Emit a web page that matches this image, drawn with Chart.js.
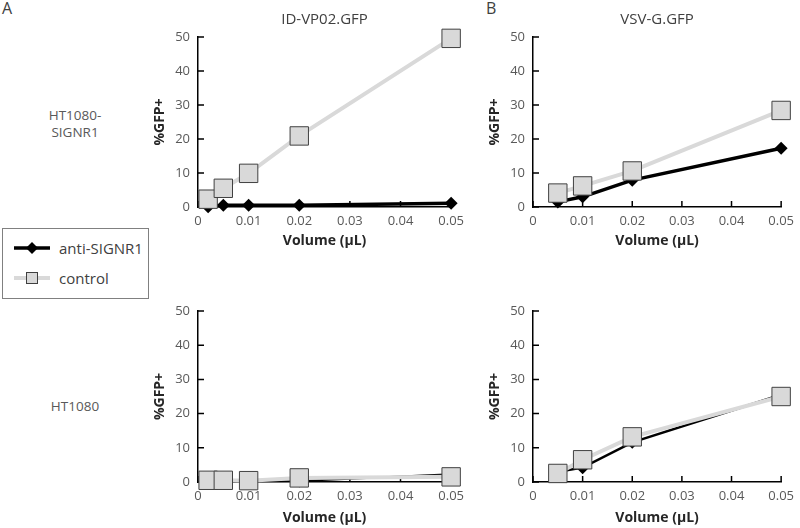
<!DOCTYPE html>
<html>
<head>
<meta charset="utf-8">
<script src="https://cdn.jsdelivr.net/npm/chart.js@4.4.0/dist/chart.umd.min.js"></script>
<style>
  body { margin: 0; background: #fff; font-family: "Open Sans", sans-serif; }
  #wrap { position: relative; width: 800px; height: 528px; overflow: hidden; }
  .box { position: absolute; }
  .lbl { position: absolute; color: #595959; font-size: 13.5px; text-align: center; line-height: 17px; }
  .panel { position: absolute; color: #404040; font-size: 16px; }
  #legend { position: absolute; left: 2px; top: 228px; width: 145px; height: 69px; border: 1px solid #808080; }
  #legend .row { position: absolute; left: 10px; height: 20px; display: flex; align-items: center; font-size: 15px; color: #404040; }
  #legend svg { margin-right: 8px; }
</style>
</head>
<body>
<div id="wrap">
  <div class="panel" style="left:2px;top:-3px;">A</div>
  <div class="panel" style="left:486px;top:-3px;">B</div>
  <div class="lbl" style="left:25px;top:107px;width:100px;">HT1080-<br>SIGNR1</div>
  <div class="lbl" style="left:25px;top:398px;width:100px;">HT1080</div>
  <div id="legend">
    <div class="row" style="top:9px;">
      <svg width="38" height="14"><line x1="1" y1="7" x2="37" y2="7" stroke="#000" stroke-width="3.5"/><polygon points="19,1 25,7 19,13 13,7" fill="#000"/></svg>anti-SIGNR1
    </div>
    <div class="row" style="top:39px;">
      <svg width="38" height="14"><line x1="1" y1="7" x2="37" y2="7" stroke="#d9d9d9" stroke-width="4"/><rect x="13.5" y="1.5" width="11" height="11" fill="#d9d9d9" stroke="#404040" stroke-width="1"/></svg>control
    </div>
  </div>
  <div class="box" style="left:140px;top:0;width:330px;height:250px;"><canvas id="c1"></canvas></div>
  <div class="box" style="left:475px;top:0;width:325px;height:250px;"><canvas id="c2"></canvas></div>
  <div class="box" style="left:140px;top:290px;width:330px;height:238px;"><canvas id="c3"></canvas></div>
  <div class="box" style="left:475px;top:290px;width:325px;height:238px;"><canvas id="c4"></canvas></div>
</div>
<script>
// volumes (µL)
const volA = [0.002, 0.005, 0.01, 0.02, 0.05];
const volB = [0.005, 0.01, 0.02, 0.05];

// %GFP+ values
const idvpSignrAnti = [0.1, 0.5, 0.5, 0.5, 1.1];
const idvpSignrCtrl = [2.3, 5.5, 9.9, 20.9, 49.6];
const vsvSignrAnti = [1.5, 3.0, 7.9, 17.3];
const vsvSignrCtrl = [4.1, 6.2, 10.6, 28.4];
const idvpHtAnti = [0.1, 0.1, 0.2, 0.3, 2.3];
const idvpHtCtrl = [0.5, 0.5, 0.4, 1.2, 1.5];
const vsvHtAnti = [3.0, 4.2, 11.6, 25.5];
const vsvHtCtrl = [2.5, 6.5, 13.2, 25.0];

const xTicks = [0, 0.01, 0.02, 0.03, 0.04, 0.05];
const yTicks = [0, 10, 20, 30, 40, 50];

const FONT = '"Open Sans", sans-serif';

// excel style tick marks pointing into the plot
const innerTicks = {
  id: 'innerTicks',
  beforeDatasetsDraw(chart) {
    const { ctx, chartArea, scales } = chart;
    ctx.save();
    ctx.strokeStyle = '#000';
    ctx.lineWidth = 1.5;
    ctx.beginPath();
    scales.x.ticks.forEach(t => {
      const px = scales.x.getPixelForValue(t.value);
      ctx.moveTo(px, chartArea.bottom);
      ctx.lineTo(px, chartArea.bottom - 6);
    });
    scales.y.ticks.forEach(t => {
      const py = scales.y.getPixelForValue(t.value);
      ctx.moveTo(chartArea.left, py);
      ctx.lineTo(chartArea.left + 6, py);
    });
    ctx.stroke();
    ctx.restore();
  }
};

function pts(xs, ys) {
  return xs.map((x, i) => ({ x: x, y: ys[i] }));
}

function makeChart(id, xs, anti, ctrl, title, opts) {
  const plugins = { legend: { display: false }, tooltip: { enabled: false } };
  if (title) {
    plugins.title = {
      display: true, text: title, fullSize: false,
      color: '#404040', font: { family: FONT, size: 15, weight: 'normal' },
      padding: { top: 11, bottom: 8 }
    };
  }
  return new Chart(document.getElementById(id), {
    type: 'line',
    data: {
      datasets: [
        {
          label: 'anti-SIGNR1', data: pts(xs, anti), order: 1,
          borderColor: '#000', backgroundColor: '#000', borderWidth: opts.antiWidth,
          pointStyle: 'rectRot', pointRadius: 6.5, pointBorderWidth: 0, clip: false
        },
        {
          label: 'control', data: pts(xs, ctrl), order: 0,
          borderColor: '#d9d9d9', backgroundColor: '#d9d9d9', borderWidth: 4,
          pointStyle: 'rect', pointRadius: 13, pointBorderColor: '#404040', pointBorderWidth: 1, clip: false
        }
      ]
    },
    plugins: [innerTicks],
    options: {
      responsive: true, maintainAspectRatio: false, animation: false,
      layout: { padding: { top: opts.padTop, right: opts.padRight, left: 0, bottom: 0 } },
      plugins: plugins,
      scales: {
        x: {
          type: 'linear', min: 0, max: 0.05,
          afterFit: s => { s.height = opts.xH; },
          afterBuildTicks: s => { s.ticks = xTicks.map(v => ({ value: v })); },
          grid: { drawOnChartArea: false, drawTicks: false },
          border: { color: '#000', width: 1.5 },
          ticks: { color: '#595959', font: { family: FONT, size: 13 }, padding: 6, maxRotation: 0 },
          title: { display: true, text: 'Volume (µL)', color: '#262626', font: { family: FONT, size: 14, weight: 'bold' }, padding: { top: 0, bottom: opts.xTitlePad } }
        },
        y: {
          min: 0, max: 50,
          afterFit: s => { s.width = 58; },
          afterBuildTicks: s => { s.ticks = yTicks.map(v => ({ value: v })); },
          grid: { drawOnChartArea: false, drawTicks: false },
          border: { color: '#000', width: 1.5 },
          ticks: { color: '#595959', font: { family: FONT, size: 13 }, padding: 8 },
          title: { display: true, text: '%GFP+', color: '#262626', font: { family: FONT, size: 14, weight: 'bold' }, padding: { top: 12, bottom: 0 } }
        }
      }
    }
  });
}

makeChart('c1', volA, idvpSignrAnti, idvpSignrCtrl, 'ID-VP02.GFP', { antiWidth: 3.5, padTop: 0, padRight: 18, xH: 43, xTitlePad: 0.6 });
makeChart('c2', volB, vsvSignrAnti, vsvSignrCtrl, 'VSV-G.GFP', { antiWidth: 3.5, padTop: 0, padRight: 14, xH: 43, xTitlePad: 0.6 });
makeChart('c3', volA, idvpHtAnti, idvpHtCtrl, null, { antiWidth: 2, padTop: 21, padRight: 18, xH: 46, xTitlePad: 1.6 });
makeChart('c4', volB, vsvHtAnti, vsvHtCtrl, null, { antiWidth: 2.5, padTop: 21, padRight: 14, xH: 46, xTitlePad: 1.6 });
</script>
</body>
</html>
